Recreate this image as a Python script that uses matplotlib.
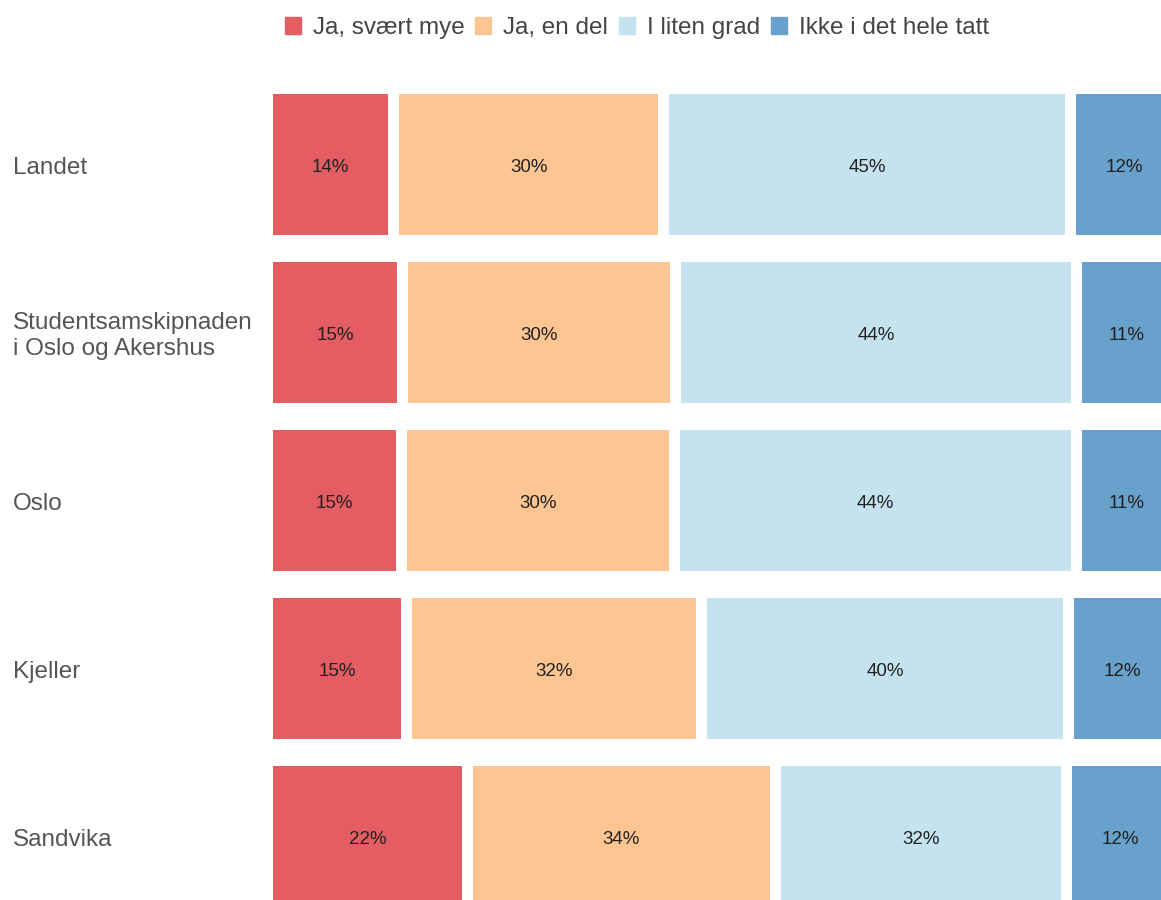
import matplotlib.pyplot as plt
from matplotlib.patches import Patch

plt.rcParams['font.family'] = ['Liberation Sans', 'DejaVu Sans']

places = ['Landet', 'Studentsamskipnaden\ni Oslo og Akershus', 'Oslo', 'Kjeller', 'Sandvika']
answers = ['Ja, svært mye', 'Ja, en del', 'I liten grad', 'Ikke i det hele tatt']
colors = ['#E35D62', '#FDC592', '#C5E3EE', '#68A1CB']

# percentages per answer, one value per place
svaert_mye = [14.0, 15.0, 14.9, 15.4, 22.2]
en_del = [30.0, 30.3, 30.3, 32.8, 34.2]
liten_grad = [45.2, 44.6, 44.7, 40.8, 32.4]
ikke = [12.0, 11.0, 11.0, 12.0, 12.0]
labels = [
    ['14%', '15%', '15%', '15%', '22%'],
    ['30%', '30%', '30%', '32%', '34%'],
    ['45%', '44%', '44%', '40%', '32%'],
    ['12%', '11%', '11%', '12%', '12%'],
]
series = [svaert_mye, en_del, liten_grad, ikke]

fig = plt.figure(figsize=(11.61, 9), dpi=100)
W, H = 1161, 900
ax = fig.add_axes([273 / W, 0, 1 - 273 / W, 1 - 80 / H])

gap = 1.2
left = [0.0] * len(places)
for k, vals in enumerate(series):
    for i, v in enumerate(vals):
        ax.barh(i, v - gap, left=left[i], height=0.84, color=colors[k])
        ax.text(left[i] + (v - gap) / 2, i + 0.02, labels[k][i], ha='center', va='center',
                fontsize=13.5, color='#222222')
        left[i] += v

ax.set_xlim(0, 888 / 9.0)
ax.set_ylim((900 - 164.5) / 168, (80 - 164.5) / 168)
ax.axis('off')

for i, p in enumerate(places):
    fig.text(13 / W, 1 - (168 + 168 * i) / H, p, ha='left', va='center',
             fontsize=17.5, color='#555555', linespacing=1.2)

handles = [Patch(color=c) for c in colors]
fig.legend(handles, answers, loc='center', bbox_to_anchor=(637 / W, 1 - 28 / H), ncol=4,
           frameon=False, fontsize=17.5, handlelength=0.65, handleheight=0.65,
           handletextpad=0.5, columnspacing=0.45, labelcolor='#444444')

fig.savefig('out.png', dpi=100)
